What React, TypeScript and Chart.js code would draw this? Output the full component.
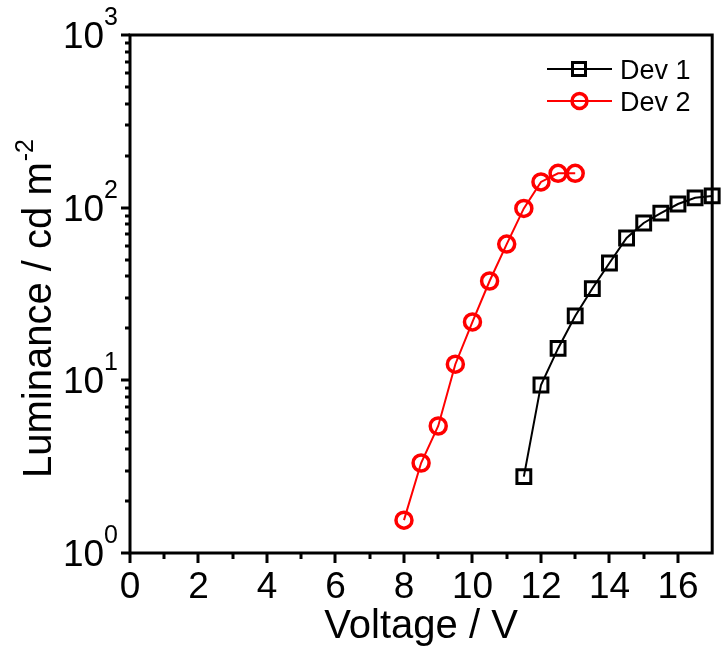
import React, { useEffect, useRef } from "react";
import { Chart, registerables } from "chart.js";

Chart.register(...registerables);

// ---- data ----
const voltage1 = [11.5, 12, 12.5, 13, 13.5, 14, 14.5, 15, 15.5, 16, 16.5, 17];
const luminance1 = [2.77, 9.4, 15.3, 23.6, 34, 47.8, 66.7, 81.5, 93, 105, 114, 117];
const voltage2 = [8, 8.5, 9, 9.5, 10, 10.5, 11, 11.5, 12, 12.5, 13];
const luminance2 = [1.55, 3.32, 5.44, 12.4, 21.8, 37.6, 61.5, 99, 141, 158, 158];

const seriesNames = ["Dev 1", "Dev 2"];
const xTickValues = [0, 2, 4, 6, 8, 10, 12, 14, 16];
const xMinorTickValues = [1, 3, 5, 7, 9, 11, 13, 15];
const yDecades = [1, 10, 100, 1000];
const yExponents = ["0", "1", "2", "3"];
const xTitle = "Voltage / V";
const yTitleMain = "Luminance / cd m";
const yTitleSup = "-2";

const FONT = '"Liberation Sans", Arial, Helvetica, sans-serif';

const decorPlugin = {
  id: "decor",
  beforeDatasetsDraw(chart: any) {
    const { ctx, chartArea: a, scales } = chart;
    const x = scales.x;
    const y = scales.y;
    ctx.save();
    ctx.strokeStyle = "#000";
    ctx.lineWidth = 3;
    ctx.lineCap = "butt";
    ctx.strokeRect(a.left, a.top, a.right - a.left, a.bottom - a.top);

    const line = (x1: number, y1: number, x2: number, y2: number) => {
      ctx.beginPath();
      ctx.moveTo(x1, y1);
      ctx.lineTo(x2, y2);
      ctx.stroke();
    };
    // x ticks
    xTickValues.forEach((v) => {
      const px = Math.round(x.getPixelForValue(v));
      line(px, a.bottom, px, a.bottom + 10);
    });
    xMinorTickValues.forEach((v) => {
      const px = Math.round(x.getPixelForValue(v));
      line(px, a.bottom, px, a.bottom + 6);
    });
    // y ticks
    yDecades.forEach((d) => {
      const py = Math.round(y.getPixelForValue(d));
      line(a.left - 9, py, a.left, py);
      if (d < 1000) {
        for (let k = 2; k <= 9; k++) {
          const pm = Math.round(y.getPixelForValue(d * k));
          line(a.left - 5, pm, a.left, pm);
        }
      }
    });

    // x tick labels
    ctx.fillStyle = "#000";
    ctx.font = `37px ${FONT}`;
    ctx.textAlign = "center";
    ctx.textBaseline = "alphabetic";
    xTickValues.forEach((v) => {
      ctx.fillText(String(v), x.getPixelForValue(v), 598);
    });

    // y tick labels
    yDecades.forEach((d, i) => {
      const py = y.getPixelForValue(d);
      ctx.font = `25px ${FONT}`;
      const ew = ctx.measureText(yExponents[i]).width;
      const right = a.left - 12;
      ctx.textAlign = "left";
      ctx.fillText(yExponents[i], right - ew, py - 10);
      ctx.font = `37px ${FONT}`;
      ctx.textAlign = "right";
      ctx.fillText("10", right - ew, py + 13);
    });

    // x title
    ctx.font = `40px ${FONT}`;
    ctx.textAlign = "center";
    ctx.fillText(xTitle, (a.left + a.right) / 2, 638);

    // y title
    ctx.save();
    ctx.translate(51, 478);
    ctx.rotate(-Math.PI / 2);
    ctx.textAlign = "left";
    ctx.font = `40px ${FONT}`;
    ctx.fillText(yTitleMain, 0, 0);
    const mw = ctx.measureText(yTitleMain).width;
    ctx.font = `25px ${FONT}`;
    ctx.fillText(yTitleSup, mw + 1, -18);
    ctx.restore();

    // legend
    const legendY = [69, 101];
    chart.data.datasets.forEach((ds: any, i: number) => {
      const ly = legendY[i];
      ctx.strokeStyle = ds.borderColor;
      ctx.lineWidth = 2;
      line(547, ly, 612, ly);
      ctx.lineWidth = 3;
      if (ds.pointStyle === "rect") {
        ctx.strokeRect(572.5, ly - 6.5, 13, 13);
      } else {
        ctx.lineWidth = 3.5;
        ctx.beginPath();
        ctx.arc(579.5, ly, 7.5, 0, Math.PI * 2);
        ctx.stroke();
      }
      ctx.fillStyle = "#000";
      ctx.font = `27px ${FONT}`;
      ctx.textAlign = "left";
      ctx.fillText(ds.label, 620, ly + 10);
    });
    ctx.restore();
  },
};

export default function App() {
  const ref = useRef<HTMLCanvasElement | null>(null);
  useEffect(() => {
    document.body.style.margin = "0";
    if (!ref.current) return;
    const chart = new Chart(ref.current, {
      type: "scatter",
      data: {
        datasets: [
          {
            label: seriesNames[0],
            data: voltage1.map((v, i) => ({ x: v, y: luminance1[i] })),
            showLine: true,
            borderColor: "#000000",
            backgroundColor: "rgba(0,0,0,0)",
            borderWidth: 2,
            pointStyle: "rect",
            pointRadius: 9.8,
            pointBorderWidth: 3,
            pointBorderColor: "#000000",
            pointBackgroundColor: "rgba(0,0,0,0)",
            clip: false as any,
          },
          {
            label: seriesNames[1],
            data: voltage2.map((v, i) => ({ x: v, y: luminance2[i] })),
            showLine: true,
            borderColor: "#ff0000",
            backgroundColor: "rgba(0,0,0,0)",
            borderWidth: 2,
            pointStyle: "circle",
            pointRadius: 8,
            pointBorderWidth: 3.5,
            pointBorderColor: "#ff0000",
            pointBackgroundColor: "rgba(0,0,0,0)",
            clip: false as any,
          },
        ],
      },
      options: {
        animation: false,
        responsive: false,
        maintainAspectRatio: false,
        layout: { padding: { top: 35, right: 10, left: 0, bottom: 0 } },
        plugins: { legend: { display: false }, tooltip: { enabled: false } },
        scales: {
          x: {
            type: "linear",
            min: 0,
            max: 17,
            ticks: { display: false },
            grid: { display: false },
            border: { display: false },
            afterFit: (s: any) => {
              s.height = 97;
            },
          },
          y: {
            type: "logarithmic",
            min: 1,
            max: 1000,
            ticks: { display: false },
            grid: { display: false },
            border: { display: false },
            afterFit: (s: any) => {
              s.width = 130;
            },
          },
        },
      },
      plugins: [decorPlugin],
    });
    return () => chart.destroy();
  }, []);
  return (
    <div style={{ position: "absolute", left: 0, top: 0, width: 725, height: 650, background: "#fff" }}>
      <canvas ref={ref} width={725} height={650} style={{ width: 725, height: 650 }} />
    </div>
  );
}
